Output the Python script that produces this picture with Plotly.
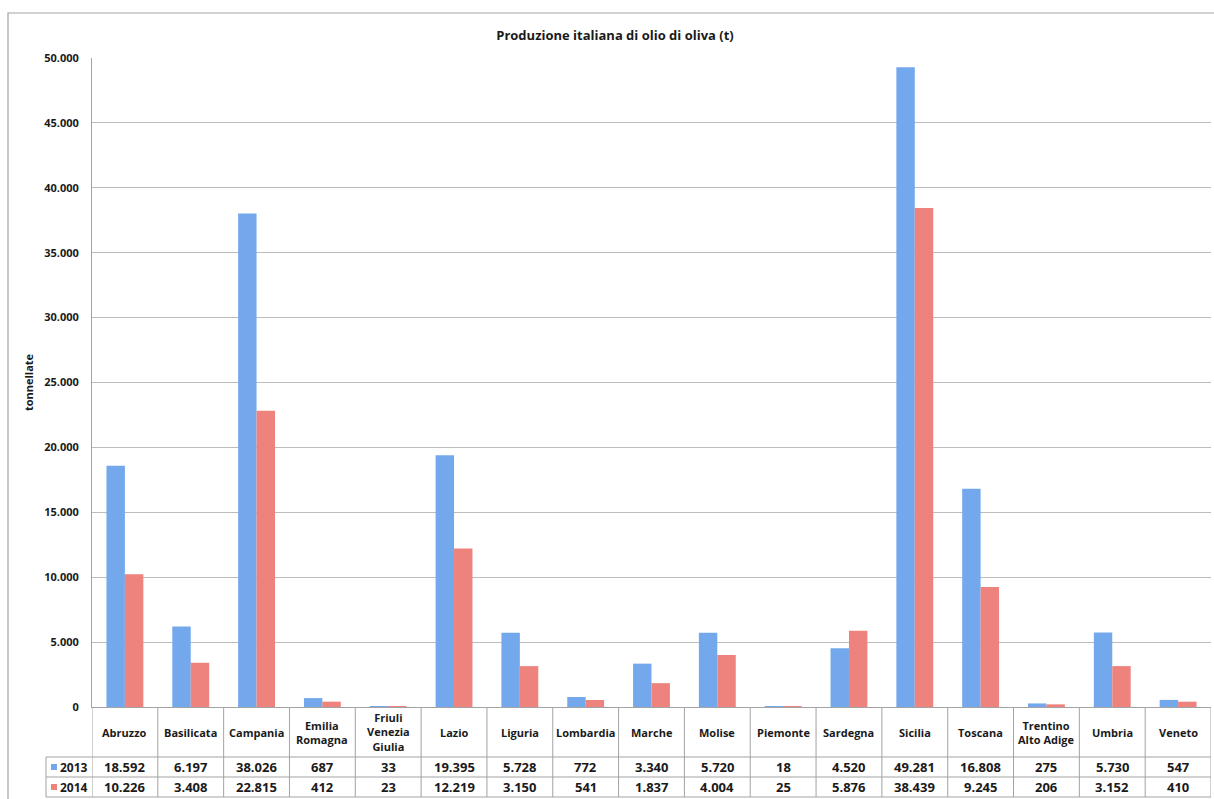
import plotly.graph_objects as go

# ---------------- data ----------------
categories = ["Abruzzo", "Basilicata", "Campania", "Emilia Romagna", "Friuli Venezia Giulia",
              "Lazio", "Liguria", "Lombardia", "Marche", "Molise", "Piemonte", "Sardegna",
              "Sicilia", "Toscana", "Trentino Alto Adige", "Umbria", "Veneto"]
header_labels = ["Abruzzo", "Basilicata", "Campania", "Emilia<br>Romagna", "Friuli<br>Venezia<br>Giulia",
                 "Lazio", "Liguria", "Lombardia", "Marche", "Molise", "Piemonte", "Sardegna",
                 "Sicilia", "Toscana", "Trentino<br>Alto Adige", "Umbria", "Veneto"]
prod_2013 = [18592, 6197, 38026, 687, 33, 19395, 5728, 772, 3340, 5720, 18, 4520,
             49281, 16808, 275, 5730, 547]
prod_2014 = [10226, 3408, 22815, 412, 23, 12219, 3150, 541, 1837, 4004, 25, 5876,
             38439, 9245, 206, 3152, 410]
series_names = ["2013", "2014"]
title_text = "Produzione italiana di olio di oliva (t)"
y_title = "tonnellate"
y_max = 50000
y_step = 5000

# ---------------- style / geometry ----------------
W, H = 1214, 799
PL, PR, PT, PB = 92, 1211, 58, 707
BLUE = "#74a8ec"
RED = "#ee837d"
GRID = "#bcbcbc"
LINE = "#a3a3a3"
FONT = "Open Sans"
TXT = "#1a1a1a"


def py(Y):
    return (PB - Y) / (PB - PT)


def px(X):
    return (X - PL) / (PR - PL)


def fmt(v):
    return f"{v:,}".replace(",", ".")


fig = go.Figure()
for name, vals, col in [(series_names[0], prod_2013, BLUE), (series_names[1], prod_2014, RED)]:
    fig.add_trace(go.Bar(name=name, x=categories, y=vals, marker=dict(color=col, line=dict(width=0)),
                         showlegend=False))

shapes = []
annotations = []

# outer chart frame
shapes.append(dict(type="rect", xref="paper", yref="paper", x0=px(8), x1=px(1230),
                   y0=py(815), y1=py(13), line=dict(color=LINE, width=1.2), layer="below"))

# table lines
n = len(categories)
for i in range(n + 1):
    shapes.append(dict(type="line", xref="x", yref="paper", x0=i - 0.5, x1=i - 0.5,
                       y0=py(707), y1=py(797), line=dict(color=LINE, width=1)))
shapes.append(dict(type="line", xref="paper", yref="paper", x0=px(46), x1=px(46),
                   y0=py(757), y1=py(797), line=dict(color=LINE, width=1)))
for Y in (757, 777, 797):
    shapes.append(dict(type="line", xref="paper", yref="paper", x0=px(46), x1=1,
                       y0=py(Y), y1=py(Y), line=dict(color=LINE, width=1)))

# header labels and values
for i, lab in enumerate(header_labels):
    annotations.append(dict(x=categories[i], xref="x", y=py(732), yref="paper", text=lab,
                            showarrow=False, yanchor="middle", xanchor="center",
                            font=dict(family=FONT, size=11, color=TXT, weight="bold")))
for Yc, vals in ((767, prod_2013), (787, prod_2014)):
    for i, v in enumerate(vals):
        annotations.append(dict(x=categories[i], xref="x", y=py(Yc), yref="paper", text=fmt(v),
                                showarrow=False, yanchor="middle", xanchor="center",
                                font=dict(family=FONT, size=13, color=TXT, weight="bold")))

# legend keys inside table
for Yc, name, col in ((767, series_names[0], BLUE), (787, series_names[1], RED)):
    shapes.append(dict(type="rect", xref="paper", yref="paper", x0=px(51), x1=px(57),
                       y0=py(Yc + 3), y1=py(Yc - 3), line=dict(width=0), fillcolor=col))
    annotations.append(dict(x=px(58), xref="paper", y=py(Yc), yref="paper", text=name,
                            showarrow=False, yanchor="middle", xanchor="left",
                            font=dict(family=FONT, size=12, color=TXT, weight="bold")))

fig.update_layout(
    width=W, height=H,
    margin=dict(l=PL, r=W - PR, t=PT, b=H - PB),
    paper_bgcolor="white", plot_bgcolor="white",
    separators=",.",
    barmode="group", bargap=0.44, bargroupgap=0,
    title=dict(text=title_text, xref="container", x=615 / W, xanchor="center",
               yref="container", y=1 - 35 / H, yanchor="middle",
               font=dict(family=FONT, size=13, color=TXT, weight="bold")),
    xaxis=dict(range=[-0.5, n - 0.5], showticklabels=False, ticks="", showgrid=False,
               showline=True, linecolor=LINE, linewidth=1, zeroline=False),
    yaxis=dict(range=[0, y_max], dtick=y_step, tick0=0, tickformat=",d",
               showgrid=True, gridcolor=GRID, gridwidth=1, zeroline=False,
               showline=True, linecolor=LINE, linewidth=1, ticks="",
               ticklabelstandoff=10,
               tickfont=dict(family=FONT, size=11, color=TXT, weight="bold"),
               title=dict(text=y_title, standoff=8,
                          font=dict(family=FONT, size=11, color=TXT, weight="bold"))),
    shapes=shapes, annotations=annotations,
)

fig.write_html("out.html", config={"displayModeBar": False},
               post_script="document.body.style.margin='0';document.body.style.overflow='hidden';")
